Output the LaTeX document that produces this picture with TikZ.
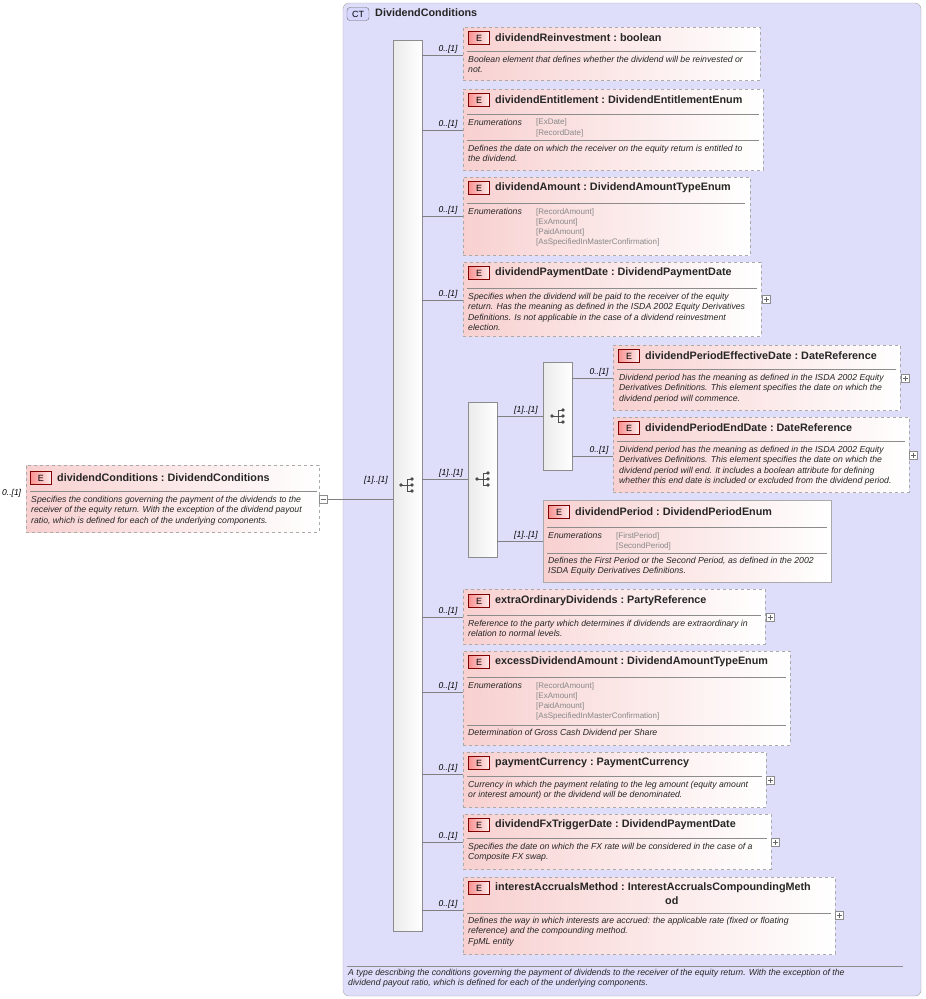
\documentclass[tikz,border=0pt]{standalone}
\usepackage{fontspec}
\setmainfont{Liberation Sans}
\usetikzlibrary{fit}
\definecolor{bg}{HTML}{DEDEFA}
\definecolor{pk}{HTML}{F8D0D0}
\definecolor{bd}{HTML}{AAAAAA}
\definecolor{enumc}{HTML}{888888}
\tikzset{
 el/.style={draw=bd, dashed, line width=0.9pt, left color=pk, right color=white, inner sep=0pt},
 els/.style={draw=bd, line width=0.9pt, left color=pk, right color=white, inner sep=0pt},
 badge/.style={draw=black!50!red, left color=pk!70!red, right color=pk!40, minimum width=21pt, minimum height=13pt, inner sep=0pt, font=\fontsize{9}{9}\selectfont},
 ttl/.style={anchor=west, inner sep=0pt, text=black!85, font=\fontsize{10.8}{12}\bfseries},
 body/.style={anchor=north west, inner sep=0pt, yshift=-2pt, align=left, text=black!85, font=\fontsize{8.7}{10.3}\itshape},
 en/.style={anchor=north west, inner sep=0pt, yshift=-2pt, align=left, text=enumc, font=\fontsize{8}{10.3}\selectfont},
 card/.style={anchor=south, inner sep=0pt, font=\fontsize{8.5}{9}\itshape},
 seq/.style={draw=black!45, left color=black!8, right color=white, inner sep=0pt},
 sep/.style={draw=black!45, line width=0.6pt},
 conn/.style={draw=black!50, line width=0.6pt},
 pm/.style={draw=black!45, fill=white, minimum size=8pt, inner sep=0pt},
}
\newcommand\seqicon[2]{%
 \draw[black!70, line width=0.8pt] (#1-6,#2)--(#1,#2) (#1,#2-6)--(#1,#2+6) (#1,#2-6)--(#1+4,#2-6) (#1,#2)--(#1+4,#2) (#1,#2+6)--(#1+4,#2+6);
 \fill[black!70] (#1-6,#2) circle (1.8pt) (#1+5,#2-6) circle (1.8pt) (#1+5,#2) circle (1.8pt) (#1+5,#2+6) circle (1.8pt);}
\newcommand\plusbox[3]{\node[pm] (#1) at (#2,#3) {}; \draw[black!60] (#2-2.5,#3)--(#2+2.5,#3) (#2,#3-2.5)--(#2,#3+2.5);}
\newcommand\tcol{\ :\ }
\begin{document}
\begin{tikzpicture}[x=1pt,y=-1pt]
\useasboundingbox (0,0) rectangle (926,999);
% CT
\node[draw=black!35, fill=bg, rounded corners=6pt, inner sep=0pt, fit={(343,3)(921,996)}] (ct) {};
\node[draw=black!60, fill=bg!70!blue!40, rounded corners=3pt, minimum width=22pt, minimum height=13pt, inner sep=0pt, font=\fontsize{9}{9}\selectfont] (ctb) at (358,14) {CT};
\node[ttl] (ctt) at (375,13) {DividendConditions};
\draw[sep] (347,966)--(903,966);
\node[body] (ctd) at (348,967) {A type describing the conditions governing the payment of dividends to the receiver of the equity return. With the exception of the\\dividend payout ratio, which is defined for each of the underlying components.};
% left element
\node[el, fit={(26,465)(319,532)}] (root) {};
\node[badge] at (41,478) {E};
\node[ttl] at (57,478) {dividendConditions\tcol DividendConditions};
\draw[sep] (30,491)--(317,491);
\node[body] at (31,494) {Specifies the conditions governing the payment of the dividends to the\\receiver of the equity return. With the exception of the dividend payout\\ratio, which is defined for each of the underlying components.};
\node[card, anchor=west] at (2,493) {0..[1]};
\node[pm] (minus) at (323,499) {}; \draw[black!60] (320.5,499)--(325.5,499);
% main sequence
\node[seq, fit={(393,40)(422,931)}] (s1) {};
\seqicon{407}{485}
\draw[conn] (minus.east)--(s1.west |- minus.east);
\node[card] at (376,484) {[1]..[1]};
% children
\newcommand\br[3]{\draw[conn] (422,#1)--(#2.west |- 0,#1); \node[card] at (448,#1-2) {#3};}
% 1
\node[el, fit={(463,27)(760,80)}] (e1) {};
\node[badge] at (479,38) {E}; \node[ttl] at (495,38) {dividendReinvestment\tcol boolean};
\draw[sep] (467,51)--(756,51);
\node[body] at (468,54) {Boolean element that defines whether the dividend will be reinvested or\\not.};
\br{55}{e1}{0..[1]}
% 2
\node[el, fit={(463,89)(763,170)}] (e2) {};
\node[badge] at (479,100) {E}; \node[ttl] at (495,100) {dividendEntitlement\tcol DividendEntitlementEnum};
\draw[sep] (467,114)--(759,114);
\node[body] at (468,117) {Enumerations}; \node[en] at (536,117) {[ExDate]\\{[RecordDate]}};
\draw[sep] (467,140)--(759,140);
\node[body] at (468,143) {Defines the date on which the receiver on the equity return is entitled to\\the dividend.};
\br{130}{e2}{0..[1]}
% 3
\node[el, fit={(463,177)(750,255)}] (e3) {};
\node[badge] at (479,188) {E}; \node[ttl] at (495,188) {dividendAmount\tcol DividendAmountTypeEnum};
\draw[sep] (467,203)--(745,203);
\node[body] at (468,206) {Enumerations}; \node[en] at (536,206) {[RecordAmount]\\{[ExAmount]}\\{[PaidAmount]}\\{[AsSpecifiedInMasterConfirmation]}};
\br{216}{e3}{0..[1]}
% 4
\node[el, fit={(463,262)(761,336)}] (e4) {};
\node[badge] at (479,273) {E}; \node[ttl] at (495,273) {dividendPaymentDate\tcol DividendPaymentDate};
\draw[sep] (467,288)--(757,288);
\node[body] at (468,291) {Specifies when the dividend will be paid to the receiver of the equity\\return. Has the meaning as defined in the ISDA 2002 Equity Derivatives\\Definitions. Is not applicable in the case of a dividend reinvestment\\election.};
\plusbox{p4}{766}{299}
\br{300}{e4}{0..[1]}
% choice
\node[seq, fit={(468,402)(497,557)}] (s2) {};
\seqicon{483}{479}
\draw[conn] (422,479)--(s2.west |- 0,479); \node[card] at (451,477) {[1]..[1]};
\node[seq, fit={(543,362)(572,470)}] (s3) {};
\seqicon{558}{416}
\draw[conn] (497,416)--(s3.west |- 0,416); \node[card] at (526,414) {[1]..[1]};
% effective
\node[el, fit={(613,345)(900,410)}] (e5) {};
\node[badge] at (629,356) {E}; \node[ttl] at (645,356) {dividendPeriodEffectiveDate\tcol DateReference};
\draw[sep] (617,369)--(896,369);
\node[body] at (619,372) {Dividend period has the meaning as defined in the ISDA 2002 Equity\\Derivatives Definitions. This element specifies the date on which the\\dividend period will commence.};
\plusbox{p5}{905}{378}
\draw[conn] (572,378)--(e5.west |- 0,378); \node[card] at (599,376) {0..[1]};
% end
\node[el, fit={(613,417)(909,492)}] (e6) {};
\node[badge] at (629,428) {E}; \node[ttl] at (645,428) {dividendPeriodEndDate\tcol DateReference};
\draw[sep] (617,441)--(905,441);
\node[body] at (619,444) {Dividend period has the meaning as defined in the ISDA 2002 Equity\\Derivatives Definitions. This element specifies the date on which the\\dividend period will end. It includes a boolean attribute for defining\\whether this end date is included or excluded from the dividend period.};
\plusbox{p6}{913}{455}
\draw[conn] (572,456)--(e6.west |- 0,456); \node[card] at (599,454) {0..[1]};
% period
\node[els, fit={(543,500)(831,582)}] (e7) {};
\node[badge] at (559,512) {E}; \node[ttl] at (575,512) {dividendPeriod\tcol DividendPeriodEnum};
\draw[sep] (547,527)--(827,527);
\node[body] at (548,530) {Enumerations}; \node[en] at (616,530) {[FirstPeriod]\\{[SecondPeriod]}};
\draw[sep] (547,553)--(827,553);
\node[body] at (548,555) {Defines the First Period or the Second Period, as defined in the 2002\\ISDA Equity Derivatives Definitions.};
\draw[conn] (497,541)--(e7.west |- 0,541); \node[card] at (526,539) {[1]..[1]};
% 6
\node[el, fit={(463,589)(765,644)}] (e8) {};
\node[badge] at (479,601) {E}; \node[ttl] at (495,601) {extraOrdinaryDividends\tcol PartyReference};
\draw[sep] (467,615)--(761,615);
\node[body] at (468,618) {Reference to the party which determines if dividends are extraordinary in\\relation to normal levels.};
\plusbox{p8}{770}{617}
\br{617}{e8}{0..[1]}
% 7
\node[el, fit={(463,651)(790,745)}] (e9) {};
\node[badge] at (479,662) {E}; \node[ttl] at (495,662) {excessDividendAmount\tcol DividendAmountTypeEnum};
\draw[sep] (467,677)--(786,677);
\node[body] at (468,680) {Enumerations}; \node[en] at (536,680) {[RecordAmount]\\{[ExAmount]}\\{[PaidAmount]}\\{[AsSpecifiedInMasterConfirmation]}};
\draw[sep] (467,725)--(786,725);
\node[body] at (468,727) {Determination of Gross Cash Dividend per Share};
\br{692}{e9}{0..[1]}
% 8
\node[el, fit={(463,752)(766,807)}] (e10) {};
\node[badge] at (479,763) {E}; \node[ttl] at (495,763) {paymentCurrency\tcol PaymentCurrency};
\draw[sep] (467,776)--(762,776);
\node[body] at (468,779) {Currency in which the payment relating to the leg amount (equity amount\\or interest amount) or the dividend will be denominated.};
\plusbox{p10}{770}{780}
\br{774}{e10}{0..[1]}
% 9
\node[el, fit={(463,814)(771,869)}] (e11) {};
\node[badge] at (479,825) {E}; \node[ttl] at (495,825) {dividendFxTriggerDate\tcol DividendPaymentDate};
\draw[sep] (467,838)--(767,838);
\node[body] at (468,841) {Specifies the date on which the FX rate will be considered in the case of a\\Composite FX swap.};
\plusbox{p11}{775}{842}
\br{842}{e11}{0..[1]}
% 10
\node[el, fit={(463,877)(835,954)}] (e12) {};
\node[badge] at (479,888) {E}; \node[ttl] at (495,888) {interestAccrualsMethod\tcol InterestAccrualsCompoundingMeth};
\node[ttl] at (665,901) {od};
\draw[sep] (467,913)--(831,913);
\node[body] at (468,915) {Defines the way in which interests are accrued: the applicable rate (fixed or floating\\reference) and the compounding method.\\FpML entity};
\plusbox{p12}{839}{915}
\br{910}{e12}{0..[1]}
\end{tikzpicture}
\end{document}
